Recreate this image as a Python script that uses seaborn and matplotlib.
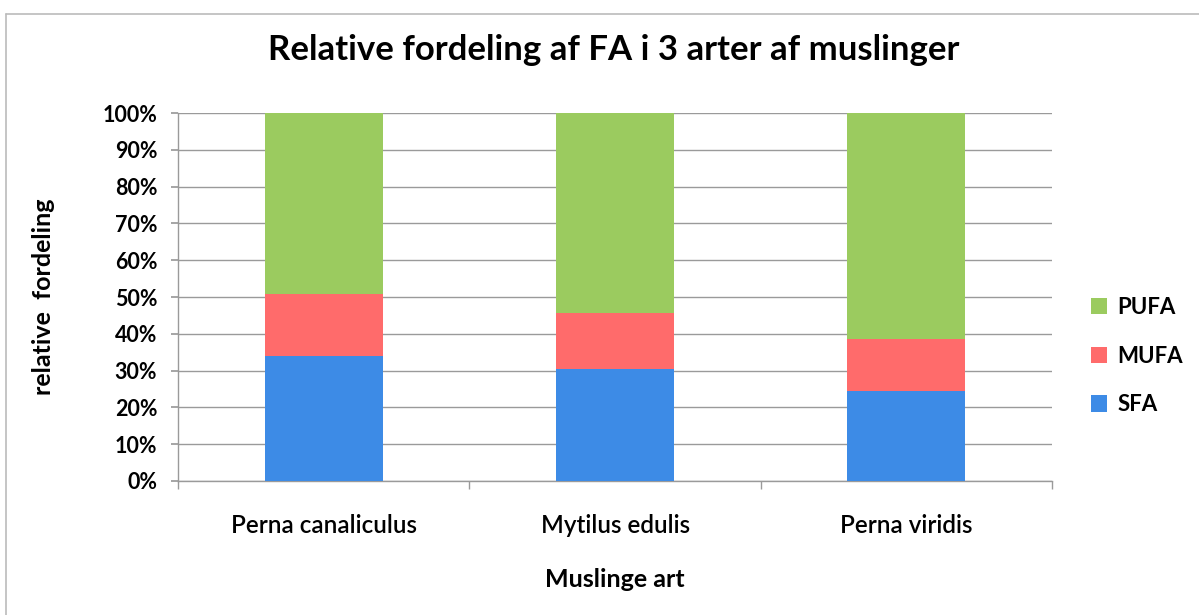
import matplotlib
matplotlib.use("Agg")
import matplotlib.pyplot as plt
from matplotlib.patches import Patch
from matplotlib.lines import Line2D
from matplotlib.ticker import PercentFormatter, FixedLocator
import seaborn as sns
import pandas as pd

# Fatty-acid composition (% of total FA) per mussel species
species = ["Perna canaliculus", "Mytilus edulis", "Perna viridis"]
sfa = [34.0, 30.4, 24.5]
mufa = [16.8, 15.3, 14.1]
pufa = [49.2, 54.3, 61.4]

colors = {"SFA": "#3D8BE6", "MUFA": "#FF6B6B", "PUFA": "#9BCB5F"}

sns.set_theme(style="white")
plt.rcParams["font.family"] = ["Lato", "DejaVu Sans"]
plt.rcParams["text.color"] = "black"
plt.rcParams["axes.labelcolor"] = "black"
plt.rcParams["xtick.color"] = "black"
plt.rcParams["ytick.color"] = "black"

fig = plt.figure(figsize=(11.99, 6.15), dpi=100)
ax = fig.add_axes([0.1485, 0.218, 0.729, 0.598])

# Stacked bars: draw cumulative heights, tallest first
top_mufa = [s + m for s, m in zip(sfa, mufa)]
top_pufa = [s + m + p for s, m, p in zip(sfa, mufa, pufa)]
layers = [("PUFA", top_pufa), ("MUFA", top_mufa), ("SFA", sfa)]
for name, vals in layers:
    df = pd.DataFrame({"art": species, "andel": vals})
    sns.barplot(data=df, x="art", y="andel", color=colors[name], width=0.405,
                saturation=1, linewidth=0, edgecolor="none", ax=ax, zorder=3)

ax.set_ylim(0, 100)
ax.set_xlim(-0.5, 2.5)
ax.yaxis.set_major_locator(FixedLocator(range(0, 101, 10)))
ax.yaxis.set_major_formatter(PercentFormatter(decimals=0))
ax.grid(axis="y", color="#9a9a9a", linewidth=1.0, zorder=0)
ax.set_axisbelow(True)

for side in ["top", "right"]:
    ax.spines[side].set_visible(False)
for side in ["left", "bottom"]:
    ax.spines[side].set_color("#9a9a9a")
    ax.spines[side].set_linewidth(1.0)

# Category-boundary ticks on the x axis
ax.set_xticks([0, 1, 2])
ax.set_xticks([-0.5, 0.5, 1.5, 2.5], minor=True)
ax.tick_params(axis="x", which="major", length=0, pad=24, labelsize=17.5)
ax.tick_params(axis="x", which="minor", length=6, color="#9a9a9a", direction="out",
               bottom=True)
ax.tick_params(axis="y", length=5, color="#9a9a9a", labelcolor="black",
               direction="out", left=True, labelsize=15.5, pad=10)
ax.tick_params(axis="x", labelcolor="black")
for lbl in ax.get_yticklabels():
    lbl.set_fontweight("bold")
for lbl in ax.get_xticklabels():
    lbl.set_fontweight("semibold")

ax.set_xlabel("Muslinge art", fontsize=18, fontweight="bold", labelpad=22)
ax.set_ylabel("relative  fordeling", fontsize=18, fontweight="bold", labelpad=34)

fig.suptitle("Relative fordeling af FA i 3 arter af muslinger", x=0.512, y=0.945,
             fontsize=25, fontweight="bold")

handles = [Patch(facecolor=colors[k], edgecolor="none") for k in ["PUFA", "MUFA", "SFA"]]
fig.legend(handles, ["PUFA", "MUFA", "SFA"], loc="center left",
           bbox_to_anchor=(0.893, 0.421), frameon=False, handlelength=0.75,
           handleheight=0.75, handletextpad=0.45, labelspacing=1.25,
           prop={"size": 16, "weight": "bold"})

# Outer chart frame
fig.add_artist(Line2D([0.005, 1.0], [0.977, 0.977], color="#bbbbbb", linewidth=1.2))
fig.add_artist(Line2D([0.005, 0.005], [0.0, 0.977], color="#bbbbbb", linewidth=1.2))

fig.savefig("out.png", dpi=100)
